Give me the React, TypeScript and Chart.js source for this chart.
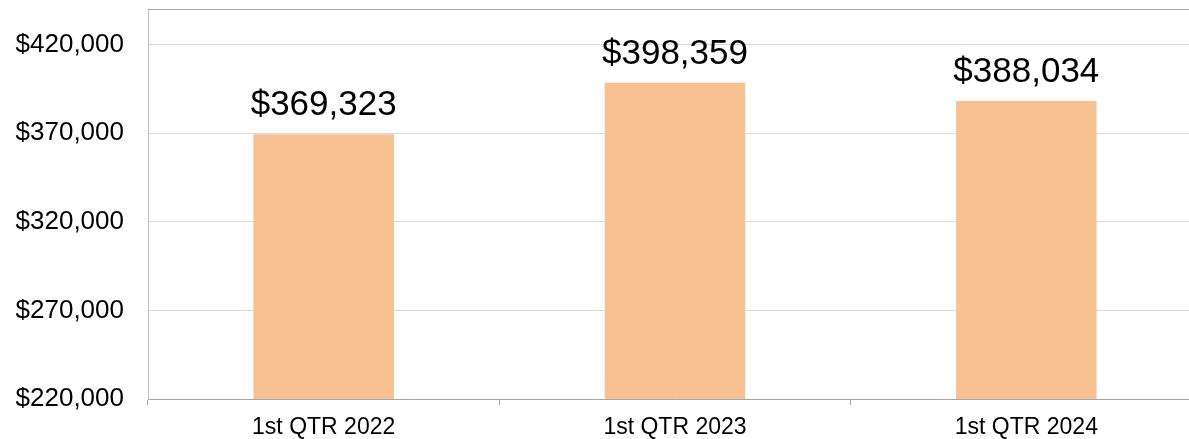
import React, { useEffect, useRef } from "react";
import { Chart, registerables } from "chart.js";

Chart.register(...registerables);

const categories = ["1st QTR 2022", "1st QTR 2023", "1st QTR 2024"];
const revenue = [369323, 398359, 388034];
const yTickValues = [220000, 270000, 320000, 370000, 420000];

const fmt = (v: number) => "$" + v.toLocaleString("en-US");
const FONT = "'Liberation Sans', Arial, sans-serif";

const extras = {
  id: "extras",
  afterDatasetsDraw(chart: any) {
    const { ctx, chartArea } = chart;
    ctx.save();
    ctx.strokeStyle = "#a6a6a6";
    ctx.lineWidth = 1;
    ctx.beginPath();
    ctx.moveTo(chartArea.left, Math.round(chartArea.top) + 0.5);
    ctx.lineTo(chartArea.right, Math.round(chartArea.top) + 0.5);
    ctx.stroke();
    const meta = chart.getDatasetMeta(0);
    ctx.fillStyle = "#000";
    ctx.font = `35px ${FONT}`;
    ctx.textAlign = "center";
    ctx.textBaseline = "alphabetic";
    meta.data.forEach((bar: any, i: number) => {
      ctx.fillText(fmt(revenue[i]), bar.x, bar.y - 19);
    });
    ctx.restore();
  },
};

export default function App() {
  const ref = useRef<HTMLCanvasElement>(null);
  useEffect(() => {
    if (!ref.current) return;
    const chart = new Chart(ref.current, {
      type: "bar",
      data: {
        labels: categories,
        datasets: [
          {
            data: revenue,
            backgroundColor: "#F8C191",
            barPercentage: 0.4,
            categoryPercentage: 1,
          },
        ],
      },
      options: {
        animation: false,
        responsive: true,
        maintainAspectRatio: false,
        layout: { padding: { top: 9, right: 0, left: 0, bottom: 0 } },
        plugins: { legend: { display: false }, tooltip: { enabled: false } },
        scales: {
          x: {
            grid: {
              offset: true,
              drawOnChartArea: false,
              drawTicks: true,
              tickLength: 6,
              color: "#a6a6a6",
            },
            border: { color: "#a6a6a6", width: 1 },
            ticks: {
              color: "#000",
              font: { family: FONT, size: 23 },
              padding: 9,
              maxRotation: 0,
            },
            afterFit: (s: any) => {
              s.height = 40;
              s.paddingLeft = 0;
              s.paddingRight = 0;
            },
          },
          y: {
            min: 220000,
            max: 440000,
            afterBuildTicks: (s: any) => {
              s.ticks = yTickValues.map((v) => ({ value: v }));
            },
            grid: { color: "#d9d9d9", drawTicks: false },
            border: { color: "#bfbfbf", width: 1 },
            ticks: {
              color: "#000",
              font: { family: FONT, size: 26 },
              padding: 24,
              callback: (v: any) => fmt(Number(v)),
            },
            afterFit: (s: any) => {
              s.width = 148;
              s.paddingTop = 0;
              s.paddingBottom = 0;
            },
          },
        },
      },
      plugins: [extras],
    });
    return () => chart.destroy();
  }, []);
  return (
    <div style={{ position: "fixed", left: 0, top: 0, width: "100vw", height: "100vh", overflow: "hidden", background: "#fff" }}>
      <div style={{ position: "absolute", left: 0, top: 0, width: 1202, height: 439 }}>
        <canvas ref={ref} />
      </div>
    </div>
  );
}
